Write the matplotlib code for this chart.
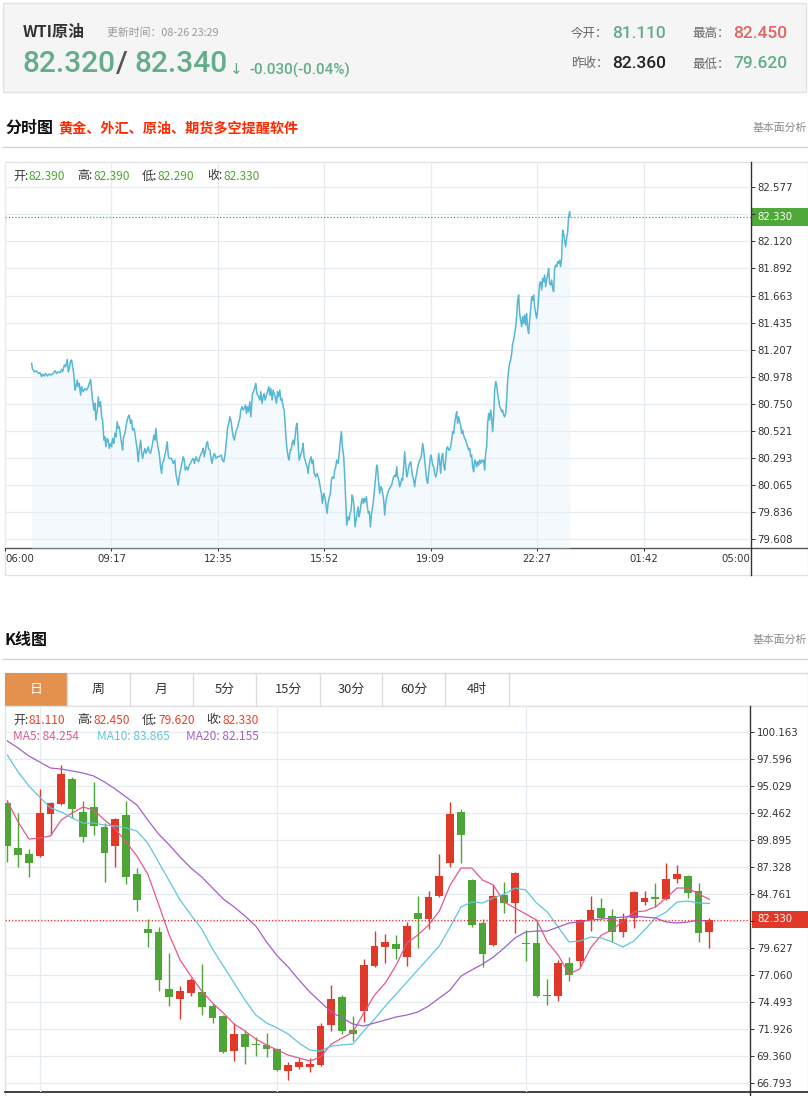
import matplotlib
matplotlib.use('Agg')
import matplotlib.pyplot as plt
from matplotlib.patches import Rectangle
import numpy as np

plt.rcParams['font.family'] = ['Noto Sans CJK SC', 'DejaVu Sans']

# ---------------- quote header ----------------
quote_name = 'WTI原油'
update_time = '08-26 23:29'
bid_price = '82.320'
ask_price = '82.340'
change_text = '-0.030(-0.04%)'
quote_labels = ['今开：', '最高：', '昨收：', '最低：']
quote_values = ['81.110', '82.450', '82.360', '79.620']

# ---------------- intraday (分时图) ----------------
time_ticks = [0, 197, 394, 591, 788, 985, 1182, 1380]   # minutes after 06:00
time_labels = ['06:00', '09:17', '12:35', '15:52', '19:09', '22:27', '01:42', '05:00']
price_ticks = [79.608, 79.836, 80.065, 80.293, 80.521, 80.750, 80.978,
               81.207, 81.435, 81.663, 81.892, 82.120, 82.349, 82.577]
price_labels = ['79.608', '79.836', '80.065', '80.293', '80.521', '80.750', '80.978',
                '81.207', '81.435', '81.663', '81.892', '82.120', '', '82.577']
minute_ohlc = [('开:', '82.390'), ('高:', '82.390'), ('低:', '82.290'), ('收:', '82.330')]
last_price = 82.330

minutes = [
    49.3, 50.6, 54.3, 58.6, 61.7, 64.7, 67.8, 69.7, 72.8, 75.2, 78.9, 81.4, 85.1, 89.4,
    92.5, 95.6, 98.7, 101.7, 104.8, 106.7, 109.8, 112.2, 115.3, 117.2, 119.0, 121.5,
    123.3, 125.2, 127.6, 129.5, 131.3, 133.8, 135.7, 137.5, 140.0, 141.8, 144.9, 148.0,
    151.1, 154.2, 156.0, 158.5, 160.3, 162.2, 164.6, 166.5, 168.3, 170.8, 172.7, 174.5,
    177.0, 178.8, 180.7, 183.1, 185.0, 186.8, 189.3, 191.2, 193.0, 195.5, 197.3, 199.2,
    201.6, 203.5, 205.3, 207.8, 209.6, 211.5, 214.0, 215.8, 217.7, 219.5, 222.0, 223.8,
    226.3, 228.1, 230.0, 232.5, 234.3, 236.2, 238.6, 240.5, 242.3, 244.8, 246.6, 248.5,
    251.0, 252.8, 254.7, 256.5, 259.0, 260.8, 263.3, 265.1, 267.0, 269.5, 271.3, 273.2,
    275.6, 277.5, 279.3, 281.2, 283.6, 285.5, 288.0, 289.8, 291.7, 294.1, 296.0, 297.8,
    300.3, 302.1, 304.0,
    308.3, 311.4, 314.4, 316.3, 318.8, 320.6, 322.5, 324.9, 327.4, 329.9, 331.7, 333.6,
    336.0, 338.5, 341.0, 343.4, 345.9, 348.4, 350.8, 353.3, 355.8, 358.2, 360.7, 363.2,
    365.0, 366.9, 368.7, 371.2, 373.0, 374.9, 376.7, 379.2, 381.0, 382.9, 385.4, 387.8,
    390.3, 392.8, 395.2, 397.7, 400.2, 402.6, 405.1, 407.6, 410.0, 411.9, 414.3, 416.2,
    418.7, 420.5, 422.4, 424.8, 426.7, 428.5, 431.0, 432.8, 434.7, 436.5, 439.0, 440.9,
    442.7, 445.2, 447.0, 448.9, 450.7, 453.2, 455.0, 456.9, 458.1, 460.0, 461.8, 464.3,
    466.1, 468.0, 469.8, 471.7, 473.5, 476.0, 477.8, 479.7, 481.5, 484.0, 485.9, 488.3,
    490.2, 492.0, 494.5, 496.3, 498.2, 500.0, 502.5, 504.4, 506.2, 508.7, 510.5, 512.4,
    514.8, 516.7, 518.5, 520.4, 522.2, 524.1, 525.9, 527.8, 529.6, 531.5, 533.3, 535.2,
    537.0, 538.9, 540.7, 542.6, 544.4, 546.3, 548.1, 550.0, 551.8, 553.7, 555.5, 557.4,
    559.2, 561.1, 562.9, 564.8, 566.6, 568.5, 570.3, 572.2,
    575.2, 577.7, 579.6, 581.4, 583.3, 585.7, 587.6, 590.0, 591.9, 593.7, 596.2, 598.1,
    600.5, 602.4, 604.2, 606.1, 608.5, 610.4, 612.2, 614.1, 616.6, 618.4, 620.9, 622.7,
    624.6, 627.0, 628.9, 630.7, 632.6, 635.1, 636.9, 638.8, 640.6, 642.5, 644.3, 646.2,
    648.0, 649.9, 651.7, 653.6, 655.4, 657.3, 659.7, 661.6, 663.4, 665.3, 667.1, 669.0,
    670.8, 672.7, 674.5, 676.4, 678.2, 680.1, 682.5, 684.4, 686.2, 688.1, 689.9, 691.8,
    693.6, 695.5, 697.3, 699.2, 701.0, 702.9, 704.7, 706.6, 708.4, 710.3, 712.1, 714.0,
    715.8, 717.7, 719.5, 721.4, 723.2, 725.1, 726.9, 728.8, 730.6, 732.5, 734.3, 736.2,
    738.0, 739.9, 741.7, 743.6, 745.4, 747.3, 749.1, 751.0, 752.8, 754.7, 756.5, 758.4,
    760.2, 762.1, 763.9, 765.8, 767.6, 769.5, 771.3, 773.2, 775.0, 776.9, 778.7, 780.6,
    782.4, 784.3, 786.1, 788.0, 789.8, 791.7, 793.5, 795.4, 797.2, 799.1, 800.9, 802.8,
    804.6, 806.5, 808.3, 810.2, 812.0, 813.9, 815.7, 817.6, 819.4, 821.3, 823.1, 825.0,
    826.8, 828.7, 830.5, 832.4, 834.2, 836.1, 837.9, 839.8, 841.6, 843.5, 845.3, 847.2,
    849.0, 850.9, 852.7, 854.6, 856.4, 858.3, 860.1, 862.0, 863.8, 865.7, 867.5, 869.4,
    871.2, 873.1, 874.9, 876.8, 878.6, 880.5, 882.3, 884.2, 886.0, 887.9, 889.7, 891.6,
    893.4, 895.3, 897.1, 899.0, 900.8, 902.7, 904.5, 906.4,
    908.3, 910.1, 912.0, 913.8, 915.7, 917.5, 919.4, 921.2, 923.1, 924.9, 926.8, 928.6,
    930.5, 932.3, 934.2, 936.0, 937.9, 939.7, 941.6, 943.4, 945.3, 947.1, 949.0, 950.8,
    952.7, 954.5, 956.4, 958.2, 960.1, 961.9, 963.8, 965.6, 967.5, 969.3, 971.2, 973.0,
    974.9, 976.7, 978.6, 980.4, 982.3, 984.1, 986.0, 987.8, 989.7, 991.5, 993.4, 995.2,
    997.1, 998.9, 1000.8, 1002.6, 1004.5, 1006.3, 1008.2, 1010.0, 1011.9, 1013.7, 1015.6,
    1017.4, 1019.3, 1021.1, 1023.0, 1024.8, 1026.7, 1028.5, 1030.4, 1032.2, 1034.1,
    1035.9, 1037.8, 1039.6, 1041.5, 1043.3, 1045.2, 1045.8]

prices = [
    81.090, 81.048, 81.020, 81.026, 81.006, 81.012, 80.978, 81.001, 80.984, 81.006, 80.984,
    81.001, 80.992, 81.006, 81.029, 81.006, 81.020, 81.012, 81.040, 81.020, 81.077, 81.062,
    81.124, 81.020, 81.048, 81.113, 81.119, 81.062, 80.992, 80.865, 80.894, 80.950, 80.894,
    80.922, 80.823, 80.894, 80.851, 80.879, 80.865, 80.894, 80.922, 80.955, 80.865, 80.781,
    80.697, 80.753, 80.612, 80.697, 80.809, 80.725, 80.767, 80.640, 80.612, 80.443, 80.471,
    80.387, 80.457, 80.443, 80.373, 80.415, 80.387, 80.457, 80.415, 80.500, 80.471, 80.598,
    80.542, 80.556, 80.471, 80.415, 80.359, 80.471, 80.500, 80.556, 80.612, 80.640, 80.654,
    80.584, 80.612, 80.528, 80.542, 80.500, 80.443, 80.359, 80.260, 80.359, 80.443, 80.345,
    80.288, 80.331, 80.373, 80.331, 80.359, 80.387, 80.345, 80.331, 80.373, 80.415, 80.485,
    80.443, 80.542, 80.443, 80.373, 80.331, 80.218, 80.162, 80.246, 80.274, 80.317, 80.359,
    80.429, 80.317, 80.288,
    80.288, 80.246, 80.274, 80.162, 80.105, 80.063, 80.134, 80.190, 80.246, 80.302, 80.274,
    80.190, 80.218, 80.190, 80.232, 80.246, 80.274, 80.288, 80.246, 80.302, 80.274, 80.260,
    80.302, 80.331, 80.345, 80.373, 80.302, 80.359, 80.415, 80.429, 80.373, 80.359, 80.302,
    80.246, 80.302, 80.331, 80.288, 80.302, 80.302, 80.308, 80.317, 80.274, 80.260, 80.331,
    80.443, 80.542, 80.584, 80.640, 80.598, 80.528, 80.471, 80.443, 80.499, 80.528, 80.556,
    80.598, 80.626, 80.697, 80.725, 80.697, 80.711, 80.739, 80.668, 80.725, 80.682, 80.767,
    80.640, 80.753, 80.837, 80.851, 80.879, 80.922, 80.837, 80.823, 80.809, 80.781, 80.851,
    80.753, 80.809, 80.837, 80.781, 80.823, 80.851, 80.894, 80.823, 80.879, 80.781, 80.865,
    80.837, 80.809, 80.753, 80.851, 80.809, 80.865, 80.781, 80.795, 80.725, 80.697, 80.584,
    80.443, 80.359, 80.302, 80.274, 80.359, 80.359, 80.415, 80.443, 80.401, 80.471, 80.556,
    80.584, 80.415, 80.274, 80.302, 80.331, 80.359, 80.415, 80.302, 80.274, 80.246, 80.218,
    80.162, 80.246, 80.274, 80.302, 80.246, 80.274, 80.162,
    80.133, 80.162, 80.133, 80.105, 80.049, 79.993, 79.908, 79.993, 79.965, 79.922, 79.824,
    79.908, 79.965, 79.993, 80.105, 80.133, 80.119, 80.190, 80.218, 80.274, 80.246, 80.317,
    80.443, 80.514, 80.387, 80.302, 80.133, 79.937, 79.725, 79.796, 79.768, 79.824, 79.852,
    79.979, 79.951, 79.880, 79.711, 79.768, 79.824, 79.880, 79.796, 79.838, 79.922, 79.951,
    79.908, 79.951, 79.922, 79.965, 79.880, 79.824, 79.838, 79.711, 79.810, 79.866, 79.951,
    80.049, 80.133, 80.232, 80.190, 80.077, 79.993, 80.049, 80.035, 79.993, 79.937, 79.810,
    79.908, 79.965, 79.993, 80.021, 80.035, 80.049, 80.063, 80.105, 80.133, 80.148, 80.133,
    80.218, 80.133, 80.105, 80.049, 80.077, 80.119, 80.105, 80.218, 80.345, 80.246, 80.133,
    80.162, 80.218, 80.246, 80.260, 80.190, 80.133, 80.105, 80.049, 80.119, 80.162, 80.218,
    80.246, 80.274, 80.288, 80.331, 80.415, 80.359, 80.274, 80.190, 80.105, 80.077, 80.162,
    80.246, 80.317, 80.288, 80.232, 80.218, 80.162, 80.133, 80.162, 80.232, 80.331, 80.260,
    80.162, 80.302, 80.331, 80.232, 80.190, 80.274, 80.373, 80.387, 80.359, 80.359, 80.387,
    80.443, 80.514, 80.499, 80.584, 80.640, 80.682, 80.584, 80.640, 80.598, 80.570, 80.499,
    80.528, 80.485, 80.457, 80.443, 80.415, 80.387, 80.359, 80.373, 80.302, 80.317, 80.218,
    80.176, 80.274, 80.260, 80.218, 80.260, 80.232, 80.274, 80.246, 80.274, 80.260, 80.274,
    80.190, 80.331, 80.387, 80.584, 80.668, 80.612, 80.696, 80.640, 80.514, 80.640, 80.865,
    80.936, 80.908, 80.837, 80.781, 80.724, 80.710, 80.682, 80.696, 80.654, 80.640, 80.668,
    80.781, 80.950, 81.034, 81.091, 81.119, 81.175, 81.259, 81.288, 81.344, 81.400, 81.485,
    81.625, 81.668, 81.513, 81.457, 81.400, 81.485, 81.428, 81.499, 81.414, 81.513, 81.386,
    81.344, 81.457, 81.541, 81.654, 81.625, 81.668, 81.569, 81.513, 81.471, 81.541, 81.654,
    81.766, 81.780, 81.710, 81.808, 81.780, 81.837, 81.738, 81.794, 81.837, 81.893, 81.766,
    81.752, 81.794, 81.724, 81.696, 81.893, 81.921, 81.907, 81.949, 81.935, 81.963, 81.907,
    81.977, 82.216, 82.188, 82.132, 82.076, 82.146, 82.202, 82.329, 82.371, 82.330]

# ---------------- daily K line (K线图) ----------------
k_open = [93.41, 89.13, 88.56, 88.37, 92.37, 93.32, 95.69, 92.56, 93.03, 91.13, 89.33,
          92.27, 86.66, 81.43, 81.15, 75.73, 74.78, 75.35, 75.45, 74.11, 73.16, 69.84,
          71.45, 70.50, 70.40, 70.03, 67.93, 68.31, 68.31, 68.50, 72.31, 74.97, 71.83,
          73.64, 77.92, 79.72, 80.01, 78.77, 82.95, 82.39, 84.57, 87.71, 92.56, 86.09,
          82.01, 79.91, 84.67, 83.91, 80.10, 80.10, 75.16, 75.06, 78.20, 78.39, 82.29,
          83.43, 82.67, 81.15, 82.48, 84.00, 84.48, 84.29, 86.19, 86.47, 85.05, 81.11]
k_high = [93.70, 92.46, 89.04, 94.74, 93.50, 97.03, 95.88, 93.60, 95.41, 91.51, 92.00,
          93.60, 87.23, 82.39, 81.62, 79.15, 76.01, 76.78, 78.11, 74.40, 73.25, 72.50,
          71.83, 71.17, 71.55, 70.12, 68.79, 69.17, 69.17, 72.50, 76.11, 75.16, 73.16,
          78.58, 81.24, 80.96, 80.86, 82.10, 84.57, 85.05, 88.56, 93.51, 92.84, 86.19,
          82.39, 85.62, 85.90, 86.85, 81.34, 82.29, 76.68, 78.49, 78.77, 82.39, 84.57,
          84.38, 83.34, 82.95, 85.05, 85.05, 85.81, 87.71, 87.52, 86.57, 85.81, 82.45]
k_low = [87.80, 87.33, 86.38, 88.28, 90.37, 93.22, 91.99, 89.71, 90.37, 85.90, 87.33,
         85.71, 83.15, 79.72, 75.54, 74.11, 72.88, 75.07, 73.26, 72.50, 69.64, 68.89,
         68.60, 69.36, 69.27, 67.98, 67.08, 68.12, 67.84, 68.41, 71.74, 71.45, 70.79,
         72.59, 77.82, 78.20, 78.58, 77.92, 79.63, 81.43, 84.48, 87.33, 87.71, 81.62,
         77.82, 79.82, 82.95, 81.05, 78.39, 75.01, 74.21, 74.59, 76.49, 77.82, 81.24,
         82.39, 80.20, 80.67, 81.53, 83.71, 83.53, 84.20, 85.81, 84.38, 80.20, 79.62]
k_close = [89.33, 88.47, 87.71, 92.46, 93.41, 96.17, 92.84, 90.18, 91.23, 88.66, 91.89,
           86.38, 84.19, 81.05, 76.59, 74.97, 75.54, 76.59, 74.02, 72.97, 69.74, 71.45,
           70.22, 70.40, 70.03, 68.03, 68.50, 68.79, 68.60, 72.21, 74.78, 71.74, 71.45,
           78.01, 79.82, 80.20, 79.53, 81.72, 82.39, 84.48, 86.47, 92.37, 90.37, 81.81,
           79.06, 84.57, 83.91, 86.76, 80.01, 75.06, 75.06, 78.20, 77.06, 82.29, 83.24,
           82.48, 81.15, 82.39, 84.95, 84.38, 84.29, 86.19, 86.66, 84.86, 81.05, 82.33]
ma5 = [93.60, 91.61, 89.99, 90.08, 90.28, 91.80, 92.46, 93.03, 92.75, 91.80, 90.94,
       89.71, 88.37, 86.66, 83.81, 80.86, 78.49, 76.96, 75.54, 74.40, 73.45, 72.40,
       71.74, 70.98, 70.41, 69.93, 69.45, 69.17, 68.88, 69.26, 70.50, 71.07, 71.64,
       73.45, 75.16, 76.30, 78.01, 80.10, 80.86, 81.81, 83.14, 85.62, 87.23, 87.23,
       86.09, 85.62, 84.00, 83.43, 82.86, 82.29, 80.20, 78.96, 77.15, 77.63, 79.63,
       80.86, 81.34, 82.19, 83.05, 83.14, 83.53, 84.38, 85.33, 85.33, 84.76, 84.254]
ma10 = [97.98, 96.36, 95.03, 93.98, 92.94, 92.56, 91.99, 91.51, 91.51, 91.32, 91.23,
        91.04, 90.75, 89.61, 87.80, 86.00, 84.19, 82.77, 81.43, 79.53, 77.92, 76.30,
        74.68, 73.26, 72.50, 72.02, 71.45, 70.60, 69.93, 69.83, 70.31, 70.41, 70.50,
        71.74, 72.88, 74.11, 75.25, 76.40, 77.54, 78.68, 79.82, 81.62, 83.53, 84.00,
        83.91, 84.38, 84.76, 85.33, 85.14, 83.91, 83.05, 81.62, 80.20, 80.29, 80.67,
        80.58, 80.20, 79.72, 80.29, 81.34, 82.48, 83.05, 84.00, 84.09, 83.91, 83.865]
ma20 = [99.31, 98.64, 97.88, 97.31, 96.74, 96.64, 96.46, 96.26, 95.98, 95.41, 94.74,
        93.98, 93.22, 91.80, 90.47, 89.42, 88.28, 87.23, 86.38, 85.33, 84.28, 83.53,
        82.67, 81.72, 80.20, 78.86, 77.82, 76.59, 75.45, 74.49, 73.54, 72.97, 72.40,
        72.21, 72.50, 72.78, 73.07, 73.26, 73.54, 74.11, 74.87, 75.63, 76.96, 77.54,
        78.10, 78.77, 79.63, 80.58, 81.15, 81.24, 81.24, 81.62, 82.00, 82.10, 82.29,
        82.38, 82.48, 82.57, 82.67, 82.57, 82.48, 82.10, 82.00, 82.10, 82.29, 82.155]
k_ticks = [66.793, 69.360, 71.926, 74.493, 77.060, 79.627, 82.194, 84.761,
           87.328, 89.895, 92.462, 95.029, 97.596, 100.163]
k_tick_labels = ['66.793', '69.360', '71.926', '74.493', '77.060', '79.627', '',
                 '84.761', '87.328', '89.895', '92.462', '95.029', '97.596', '100.163']
k_month_lines = [3, 25, 48]
day_ohlc = [('开:', '81.110'), ('高:', '82.450'), ('低:', '79.620'), ('收:', '82.330')]
ma_texts = ['MA5: 84.254', 'MA10: 83.865', 'MA20: 82.155']
period_tabs = ['日', '周', '月', '5分', '15分', '30分', '60分', '4时']

# ---------------- drawing ----------------
W, H = 808, 1096
fig = plt.figure(figsize=(W / 100, H / 100), dpi=100)
bg = fig.add_axes([0, 0, 1, 1])
bg.set_xlim(0, W)
bg.set_ylim(H, 0)
bg.axis('off')

NUM = ['Roboto', 'DejaVu Sans']
GRID = '#e5ecf1'
GREEN_Q = '#63ad88'
UP = '#e0392a'
DOWN = '#4ca534'


def txt(x, y, s, size, color='#333333', weight='normal', ha='left', family=None):
    kw = {'family': family} if family else {}
    fig.text(x / W, 1 - y / H, s, fontsize=size, color=color, fontweight=weight,
             ha=ha, va='center', **kw)


def axes_px(x0, y0, x1, y1):
    return fig.add_axes([x0 / W, 1 - y1 / H, (x1 - x0) / W, (y1 - y0) / H])


# header box
bg.add_patch(Rectangle((3, 3), 803, 89, facecolor='#f5f5f5', edgecolor='#e2e2e2', lw=1))
txt(23, 32, quote_name, 11.5, '#333333', 'bold')
txt(107, 33, '更新时间：' + update_time, 7.8, '#9a9a9a')
txt(22, 64, bid_price, 21.5, GREEN_Q, 'medium', family=NUM)
txt(116, 64, '/', 21.5, '#555555', 'medium', family=NUM)
txt(134, 64, ask_price, 21.5, GREEN_Q, 'medium', family=NUM)
txt(230, 70, '↓', 11, GREEN_Q, family=['DejaVu Sans'])
txt(249, 70, change_text, 11, GREEN_Q, 'medium', family=NUM)
q_pos = [(571, 33), (692, 33), (571, 64), (692, 64)]
q_col = [GREEN_Q, '#e06464', '#222222', GREEN_Q]
for (x, y), lab, val, c in zip(q_pos, quote_labels, quote_values, q_col):
    txt(x, y, lab, 9, '#666666')
    txt(x + 41, y, val, 12.5, c, 'medium', family=NUM)

# section titles
txt(5, 128, '分时图', 11.5, '#111111', 'bold')
txt(58, 128, '黄金、外汇、原油、期货多空提醒软件', 10.2, '#ff2a00', 'bold')
txt(753, 128, '基本面分析', 7.8, '#8a8a8a')
bg.plot([3, 808], [147, 147], color='#d2d2d2', lw=1)

# ---------- intraday chart ----------
bg.add_patch(Rectangle((5, 162), 803, 413, facecolor='white', edgecolor='#e2e2e2', lw=1))
ax1 = axes_px(5, 162, 750.5, 548)
ax1.set_facecolor('none')
ax1.set_xlim(time_ticks[0], time_ticks[-1])
ax1.set_ylim(79.532, 82.791)
ax1.set_axisbelow(True)
ax1.fill_between(minutes, prices, 79.532, color='#e6f2fa', alpha=0.45, lw=0)
ax1.plot(minutes, prices, color='#58b7d5', lw=1.1)
ax1.axhline(last_price, color='#4caf3a', ls=(0, (1, 1.6)), lw=0.9)
ax1.set_xticks(time_ticks)
ax1.set_xticklabels(time_labels)
xl = ax1.get_xticklabels()
xl[0].set_ha('left')
xl[-1].set_ha('right')
ax1.set_yticks(price_ticks)
ax1.set_yticklabels(price_labels)
ax1.yaxis.tick_right()
ax1.grid(True, color=GRID, lw=0.9)
ax1.tick_params(axis='y', length=2.8, width=0.7, color='#333333', labelsize=7.3,
                pad=2, labelcolor='#333333')
ax1.tick_params(axis='x', length=2.5, width=0.7, color='#333333', labelsize=7.3,
                pad=1.5, labelcolor='#333333')
for lab in ax1.get_xticklabels() + ax1.get_yticklabels():
    lab.set_family('DejaVu Sans')
for s in ax1.spines.values():
    s.set_visible(False)
bg.plot([5, 808], [548, 548], color='#555555', lw=1)
bg.plot([750.5, 750.5], [162, 575], color='#333333', lw=1)
bg.add_patch(Rectangle((752, 208), 56, 18, facecolor='#4ea83a', edgecolor='none'))
txt(757, 217, f'{last_price:.3f}', 7.3, 'white', family=['DejaVu Sans'])
for (lab, val), x in zip(minute_ohlc, [13, 77, 142, 207]):
    txt(x, 176, lab, 8.6, '#333333')
    txt(x + 16, 176, val, 8.6, '#4aa832')

# ---------- K line chart ----------
txt(5, 640, 'K线图', 11.5, '#111111', 'bold')
txt(753, 640, '基本面分析', 7.8, '#8a8a8a')
bg.plot([3, 808], [659, 659], color='#d2d2d2', lw=1)

bg.add_patch(Rectangle((5, 673), 803, 33, facecolor='white', edgecolor='#dcdcdc', lw=1))
tab_edges = [5, 67, 130, 193, 256, 320, 382, 445, 509]
bg.add_patch(Rectangle((5, 673), 62, 33, facecolor='#e5914e', edgecolor='none'))
for i, lab in enumerate(period_tabs):
    x0, x1 = tab_edges[i], tab_edges[i + 1]
    if i > 0:
        bg.plot([x1, x1], [673, 706], color='#dcdcdc', lw=1)
    else:
        bg.plot([x1, x1], [673, 706], color='#dcdcdc', lw=1)
    txt((x0 + x1) / 2, 689.5, lab, 9.3, 'white' if i == 0 else '#333333', ha='center')

bg.add_patch(Rectangle((5, 706), 803, 392, facecolor='white', edgecolor='#e2e2e2', lw=1))
ax2 = axes_px(5, 706, 750, 1092)
ax2.set_facecolor('none')
ax2.set_xlim(-0.213, 68.76)
ax2.set_ylim(65.938, 102.635)
ax2.set_axisbelow(True)

idx = np.arange(len(k_open))
o = np.array(k_open)
c = np.array(k_close)
cols = [UP if cc >= oo else DOWN for oo, cc in zip(o, c)]
ax2.vlines(idx, k_low, k_high, colors=cols, lw=1)
body = np.maximum(np.abs(c - o), 0.1)
ax2.bar(idx, body, bottom=np.minimum(o, c), width=0.72, color=cols, lw=0)
ax2.plot(idx, ma5, color='#e6578a', lw=0.9)
ax2.plot(idx, ma10, color='#5ec5dc', lw=0.9)
ax2.plot(idx, ma20, color='#a45fca', lw=0.9)
ax2.axhline(last_price, color=UP, ls=(0, (1, 1.6)), lw=0.9)

ax2.set_yticks(k_ticks)
ax2.set_yticklabels(k_tick_labels)
ax2.yaxis.tick_right()
ax2.set_xticks(k_month_lines)
ax2.set_xticklabels([])
ax2.grid(True, color=GRID, lw=0.9)
ax2.tick_params(axis='y', length=2.8, width=0.7, color='#333333', labelsize=7.3,
                pad=2, labelcolor='#333333')
ax2.tick_params(axis='x', length=0)
for lab in ax2.get_yticklabels():
    lab.set_family('DejaVu Sans')
for s in ax2.spines.values():
    s.set_visible(False)
bg.plot([5, 808], [1092, 1092], color='#222222', lw=1.2)
bg.plot([750, 750], [706, 1096], color='#333333', lw=1)
bg.add_patch(Rectangle((752, 911), 56, 17, facecolor=UP, edgecolor='none'))
txt(757, 919.5, f'{last_price:.3f}', 7.3, 'white', family=['DejaVu Sans'])

for (lab, val), x in zip(day_ohlc, [13, 77, 142, 206]):
    txt(x, 720, lab, 8.6, '#333333')
    txt(x + 16, 720, val, 8.6, '#e8412c')
for s, x, col in zip(ma_texts, [13, 97, 186], ['#e6578a', '#5ec5dc', '#a45fca']):
    txt(x, 737, s, 8.6, col)

fig.savefig('out.png', dpi=100)
